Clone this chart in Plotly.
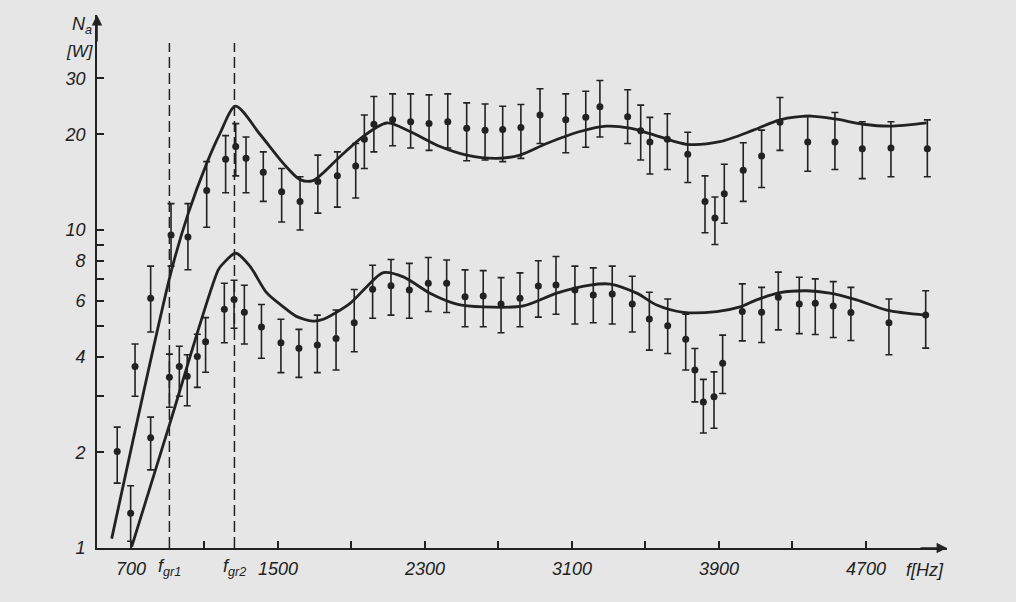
import plotly.graph_objects as go

# ---- measured points: upper series (f [Hz], Na [W], bar top, bar bottom)
up_f  = [625, 722, 807, 918, 1010, 1112, 1215, 1270, 1326, 1420, 1520, 1620, 1717, 1823, 1923,
         1970, 2022, 2124, 2222, 2322, 2424, 2527, 2627, 2723, 2822, 2926, 3066, 3175, 3252,
         3403, 3474, 3524, 3619, 3730, 3824, 3878, 3929, 4032, 4132, 4232, 4383, 4531, 4680,
         4836, 5034]
up_n  = [2.01, 3.72, 6.1, 9.65, 9.5, 13.3, 16.7, 18.3, 16.8, 15.2, 13.2, 12.3, 14.2, 14.8, 15.9,
         19.3, 21.5, 22.2, 21.9, 21.6, 21.9, 20.9, 20.6, 20.7, 21.0, 23.0, 22.2, 22.6, 24.4,
         22.7, 20.5, 18.9, 19.3, 17.3, 12.3, 10.9, 13.0, 15.4, 17.1, 21.8, 18.9, 18.9, 18.0,
         18.1, 18.0]
up_hi = [2.40, 4.38, 7.7, 12.1, 12.1, 16.4, 19.8, 21.6, 19.6, 17.6, 15.6, 14.7, 17.2, 17.6, 18.7,
         23.0, 26.3, 26.8, 26.8, 26.6, 26.8, 25.1, 24.9, 24.5, 24.8, 27.8, 26.8, 27.3, 29.5,
         27.6, 24.7, 22.6, 23.2, 20.3, 14.8, 12.7, 16.1, 18.8, 20.6, 26.1, 22.9, 23.4, 21.9,
         21.9, 22.2]
up_lo = [1.60, 3.0, 4.78, 7.7, 7.5, 10.2, 13.1, 14.8, 13.1, 12.3, 10.6, 10.0, 11.3, 11.8, 12.6,
         15.6, 17.6, 18.4, 18.1, 17.8, 18.1, 16.5, 16.6, 16.4, 16.8, 18.7, 17.5, 18.2, 19.6,
         18.7, 16.6, 15.0, 15.5, 14.1, 9.8, 9.0, 10.5, 12.3, 13.6, 17.8, 15.3, 15.5, 14.5,
         14.7, 14.7]

# ---- measured points: lower series
lo_f  = [698, 807, 909, 963, 1006, 1061, 1106, 1208, 1261, 1317, 1410, 1516, 1614, 1714, 1816,
         1915, 2015, 2115, 2215, 2318, 2418, 2518, 2617, 2714, 2817, 2917, 3013, 3116, 3216,
         3319, 3428, 3521, 3621, 3719, 3769, 3815, 3873, 3920, 4027, 4132, 4223, 4337, 4424,
         4522, 4618, 4825, 5025]
lo_n  = [1.285, 2.22, 3.44, 3.72, 3.47, 4.0, 4.45, 5.63, 6.05, 5.51, 4.95, 4.42, 4.25, 4.35, 4.56,
         5.11, 6.51, 6.68, 6.47, 6.80, 6.80, 6.17, 6.2, 5.85, 6.1, 6.67, 6.72, 6.47, 6.25,
         6.29, 5.85, 5.25, 5.0, 4.53, 3.63, 2.88, 2.99, 3.81, 5.54, 5.51, 6.14, 5.85, 5.88,
         5.77, 5.50, 5.11, 5.40]
lo_hi = [1.57, 2.58, 4.07, 4.31, 4.05, 4.70, 5.3, 6.8, 6.95, 6.7, 5.83, 5.24, 4.87, 5.4, 5.6,
         6.5, 7.75, 8.08, 7.85, 8.19, 8.05, 7.49, 7.45, 7.08, 7.33, 8.0, 8.25, 7.7, 7.6,
         7.7, 7.15, 6.37, 6.07, 5.43, 4.24, 3.39, 3.58, 4.67, 6.77, 6.6, 7.37, 7.1, 7.02,
         6.88, 6.6, 6.07, 6.44]
lo_lo = [1.05, 1.76, 2.77, 3.0, 2.80, 3.20, 3.57, 4.42, 4.91, 4.38, 3.95, 3.56, 3.44, 3.56, 3.63,
         4.14, 5.28, 5.40, 5.28, 5.54, 5.50, 4.96, 4.96, 4.75, 4.96, 5.32, 5.43, 5.06, 5.11,
         5.06, 4.78, 4.19, 4.09, 3.63, 2.88, 2.30, 2.38, 3.06, 4.48, 4.43, 4.85, 4.72, 4.69,
         4.59, 4.49, 4.05, 4.25]

# ---- theoretical curves
cu_f = [595, 921, 1012, 1112, 1184, 1269, 1402, 1529, 1620, 1690, 1837, 1964, 2092, 2218, 2382,
        2527, 2690, 2817, 2962, 3144, 3289, 3415, 3524, 3724, 3905, 4087, 4232, 4395, 4540,
        4685, 4830, 5030]
cu_n = [1.07, 7.49, 11.3, 16.2, 20.1, 24.5, 20.0, 16.2, 14.4, 14.3, 17.0, 19.7, 21.7, 20.4, 18.3,
        17.2, 16.8, 17.2, 18.7, 20.4, 21.2, 20.9, 20.1, 18.6, 18.95, 20.6, 22.2, 22.8, 22.3,
        21.5, 21.2, 21.7]
cl_f = [704, 912, 1175, 1202, 1270, 1347, 1438, 1529, 1600, 1690, 1747, 1892, 1983, 2073,
        2182, 2327, 2473, 2617, 2835, 3017, 3198, 3307, 3452, 3561, 3706, 3888, 4015, 4105,
        4232, 4377, 4503, 4649, 4813, 5025]
cl_n = [1.01, 2.47, 7.49, 7.85, 8.45, 7.7, 6.35, 5.73, 5.35, 5.17, 5.24, 5.88, 6.63, 7.34,
        7.12, 6.33, 5.85, 5.73, 5.77, 6.33, 6.71, 6.76, 6.33, 5.81, 5.51, 5.54, 5.73, 6.03,
        6.35, 6.44, 6.33, 6.03, 5.6, 5.40]

# ---- limit frequencies and axis ticks
f_gr = [909, 1263]
f_gr_labels = ["f<sub>gr1</sub>", "f<sub>gr2</sub>"]
dash_n = [1, 38.7]
x_ticks = [700, 1100, 1500, 1900, 2300, 2700, 3100, 3500, 3900, 4300, 4700]
x_tick_text = ["700", "", "1500", "", "2300", "", "3100", "", "3900", "", "4700"]
y_ticks = [1, 2, 3, 4, 5, 6, 7, 8, 9, 10, 20, 30]
y_tick_text = ["1", "2", "", "4", "", "6", "", "8", "", "10", "20", "30"]

INK = "#222222"
BG = "#e6e6e6"
FONT = "Liberation Sans"

fig = go.Figure()

for fx in f_gr:
    fig.add_trace(go.Scatter(x=[fx, fx], y=dash_n, mode="lines",
                             line=dict(color=INK, width=1.5, dash="11px,5px"),
                             hoverinfo="skip", showlegend=False))

for xs, ys in [(cu_f, cu_n), (cl_f, cl_n)]:
    fig.add_trace(go.Scatter(x=xs, y=ys, mode="lines",
                             line=dict(color=INK, width=2.8, shape="spline", smoothing=0.8),
                             showlegend=False))

for xs, ys, hi, lo in [(up_f, up_n, up_hi, up_lo), (lo_f, lo_n, lo_hi, lo_lo)]:
    fig.add_trace(go.Scatter(
        x=xs, y=ys, mode="markers",
        marker=dict(color=INK, size=7),
        error_y=dict(type="data", symmetric=False,
                     array=[h - v for h, v in zip(hi, ys)],
                     arrayminus=[v - l for v, l in zip(ys, lo)],
                     color=INK, thickness=1.6, width=3.5),
        showlegend=False))

tickfont = dict(family=FONT, size=18, color=INK, style="italic")

fig.update_layout(
    width=1016, height=602, autosize=False,
    margin=dict(l=97, r=69, t=15, b=54),
    paper_bgcolor=BG, plot_bgcolor=BG,
    font=dict(family=FONT, color=INK),
    xaxis=dict(range=[515, 5141], showgrid=False, zeroline=False,
               showline=True, linecolor=INK, linewidth=1.6,
               ticks="inside", ticklen=7, tickwidth=1.5, tickcolor=INK,
               tickvals=x_ticks, ticktext=x_tick_text, tickfont=tickfont,
               ticklabelstandoff=4),
    yaxis=dict(type="log", range=[0, 1.676], showgrid=False, zeroline=False,
               showline=True, linecolor=INK, linewidth=1.6,
               ticks="inside", ticklen=7, tickwidth=1.5, tickcolor=INK,
               tickvals=y_ticks, ticktext=y_tick_text, tickfont=tickfont,
               ticklabelstandoff=6),
)

annos = []
for fx, lab in zip(f_gr, f_gr_labels):
    annos.append(dict(x=fx, y=0, xref="x", yref="paper", text=lab, showarrow=False,
                      xanchor="center", yanchor="top", yshift=-6,
                      font=dict(family=FONT, size=18, color=INK, style="italic")))
annos += [
    dict(x=-0.018, y=0.981, xref="paper", yref="paper", text="N<sub>a</sub>", showarrow=False,
         xanchor="center", yanchor="middle",
         font=dict(family=FONT, size=18, color=INK, style="italic")),
    dict(x=-0.02, y=0.931, xref="paper", yref="paper", text="[W]", showarrow=False,
         xanchor="center", yanchor="middle",
         font=dict(family=FONT, size=17, color=INK, style="italic")),
    dict(x=0.974, y=-0.041, xref="paper", yref="paper", text="f[Hz]", showarrow=False,
         xanchor="center", yanchor="middle",
         font=dict(family=FONT, size=18, color=INK, style="italic")),
    dict(x=0, y=1, xref="paper", yref="paper", text="", showarrow=True,
         ax=0, ay=28, axref="pixel", ayref="pixel",
         arrowhead=2, arrowsize=1.3, arrowwidth=1.6, arrowcolor=INK),
    dict(x=1, y=0, xref="paper", yref="paper", text="", showarrow=True,
         ax=-28, ay=0, axref="pixel", ayref="pixel",
         arrowhead=2, arrowsize=1.3, arrowwidth=1.6, arrowcolor=INK),
]
fig.update_layout(annotations=annos)

fig.write_html("out.html",
               config={"displayModeBar": False},
               post_script="document.body.style.margin='0';"
                           "document.body.style.background='" + BG + "';"
                           "document.body.style.overflow='hidden';")
